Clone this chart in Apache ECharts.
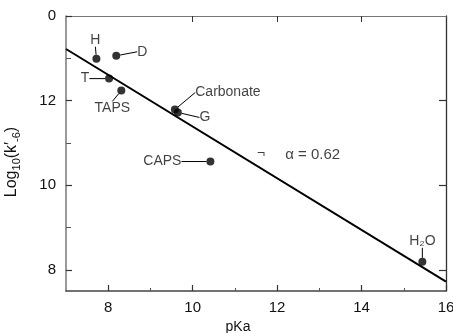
<!DOCTYPE html>
<html>
<head>
<meta charset="utf-8">
<script src="https://cdn.jsdelivr.net/npm/echarts@6/dist/echarts.min.js"></script>
<style>
  html, body { margin: 0; padding: 0; background: #fff; }
  #chart { width: 453px; height: 333px; }
</style>
</head>
<body>
<div id="chart"></div>
<script>
// Buffers: pKa against log10 of the rate constant
const bufferNames = ['H', 'D', 'T', 'TAPS', 'Carbonate', 'G', 'CAPS', 'H₂O'];
const pKaValues   = [7.72, 8.19, 8.02, 8.31, 9.58, 9.65, 10.42, 15.44];
const logKValues  = [12.99, 13.06, 12.52, 12.24, 11.79, 11.72, 10.56, 8.19];

// Fitted straight line (end points at the axis limits)
const fitX = [7, 16];
const fitY = [13.22, 7.72];

// Axis ticks and labels
const xMajorTicks = [8, 10, 12, 14, 16];
const xMinorTicks = [9, 11, 13, 15];
const yMajorTicks = [8, 10, 12, 14];
const yMinorTicks = [9, 11, 13];
const yTickText = { 8: '8', 10: '10', 12: '12', 14: '0' };

// Slope annotation
const slopeText = 'α = 0.62';
const slopeAt = [12.19, 10.71];
const markAt = [11.62, 10.73];

// Label offsets (px) from each point, so leader lines can be drawn
const labelShift = {
  'H': [-1, -19],
  'D': [26, -4],
  'T': [-24, 0],
  'TAPS': [-9, 18],
  'Carbonate': [53, -17],
  'G': [27, 5],
  'CAPS': [-48, 0],
  'H₂O': [0, -21]
};

const FONT = 'Liberation Sans';
const INK = '#111';

const points = bufferNames.map((n, i) => ({ name: n, value: [pKaValues[i], logKValues[i]] }));

const chart = echarts.init(document.getElementById('chart'), null, { renderer: 'canvas' });

const axisBase = {
  type: 'value',
  splitLine: { show: false },
  axisLine: { show: true, onZero: false, lineStyle: { color: '#444', width: 1.5 } }
};

chart.setOption({
  animation: false,
  backgroundColor: '#fff',
  grid: { left: 66, right: 7, top: 16, bottom: 42, containLabel: false, outerBoundsMode: 'none' },
  xAxis: [
    Object.assign({}, axisBase, {
      min: 7, max: 16, position: 'bottom',
      name: 'pKa', nameLocation: 'middle', nameGap: 27,
      nameTextStyle: { fontFamily: FONT, fontSize: 14, color: INK, padding: [0, 36, 0, 0] },
      axisTick: { show: true, inside: true, length: 6, customValues: xMajorTicks, lineStyle: { color: '#333', width: 1.2 } },
      axisLabel: { show: true, customValues: xMajorTicks, margin: 9, fontFamily: FONT, fontSize: 15, color: INK }
    }),
    Object.assign({}, axisBase, {
      min: 7, max: 16, position: 'bottom',
      axisLine: { show: false },
      axisTick: { show: true, inside: true, length: 3, customValues: xMinorTicks, lineStyle: { color: '#555', width: 1 } },
      axisLabel: { show: false }
    }),
    Object.assign({}, axisBase, {
      min: 7, max: 16, position: 'top',
      axisLine: { show: true, lineStyle: { color: '#777', width: 1 } },
      axisTick: { show: true, inside: true, length: 6, customValues: [10, 12, 14], lineStyle: { color: '#333', width: 1 } },
      axisLabel: { show: false }
    })
  ],
  yAxis: [
    Object.assign({}, axisBase, {
      min: 7.5, max: 14, position: 'left',
      name: '{b|Log}{s|10}{b|(k′}{s|-6}{b|)}', nameLocation: 'middle', nameGap: 44, nameRotate: 90,
      nameTextStyle: {
        fontFamily: FONT, fontSize: 16, color: INK, padding: [0, 0, 0, -17],
        rich: {
          b: { fontFamily: FONT, fontSize: 16, lineHeight: 20, color: INK },
          s: { fontFamily: FONT, fontSize: 11, lineHeight: 11, verticalAlign: 'bottom', color: INK }
        }
      },
      axisLine: { show: true, onZero: false, lineStyle: { color: '#777', width: 1.5 } },
      axisTick: { show: true, inside: true, length: 6, customValues: yMajorTicks, lineStyle: { color: '#333', width: 1.2 } },
      axisLabel: {
        show: true, customValues: yMajorTicks, margin: 10, fontFamily: FONT, fontSize: 15, color: INK,
        formatter: v => yTickText[v] !== undefined ? yTickText[v] : ''
      }
    }),
    Object.assign({}, axisBase, {
      min: 7.5, max: 14, position: 'left',
      axisLine: { show: false },
      axisTick: { show: true, inside: true, length: 5, customValues: yMinorTicks, lineStyle: { color: '#555', width: 1 } },
      axisLabel: { show: false }
    }),
    Object.assign({}, axisBase, {
      min: 7.5, max: 14, position: 'right',
      axisLine: { show: true, onZero: false, lineStyle: { color: '#333', width: 1.3 } },
      axisTick: { show: true, inside: true, length: 7, customValues: [8, 10, 12], lineStyle: { color: '#333', width: 1.2 } },
      axisLabel: { show: false }
    })
  ],
  series: [
    {
      type: 'line',
      data: fitX.map((x, i) => [x, fitY[i]]),
      symbol: 'none',
      lineStyle: { color: '#000', width: 2 },
      z: 2
    },
    {
      type: 'scatter',
      data: points,
      symbol: 'circle',
      symbolSize: 8,
      itemStyle: { color: '#000' },
      label: {
        show: true, position: 'inside', formatter: p => p.name,
        fontFamily: FONT, fontSize: 14, color: INK
      },
      labelLayout: p => {
        const s = labelShift[bufferNames[p.dataIndex]];
        return { dx: s[0], dy: s[1] };
      },
      labelLine: { show: true, length2: 0, lineStyle: { color: '#000', width: 1 } },
      z: 3
    },
    {
      type: 'scatter',
      data: [{ name: slopeText, value: slopeAt }],
      symbolSize: 0,
      label: {
        show: true, position: 'right', distance: 0, formatter: p => p.name,
        fontFamily: FONT, fontSize: 15, color: INK
      },
      z: 3
    },
    {
      type: 'scatter',
      data: [{ name: '¬', value: markAt }],
      symbolSize: 0,
      label: {
        show: true, position: 'inside', formatter: p => p.name,
        fontFamily: FONT, fontSize: 14, color: INK
      },
      z: 3
    }
  ]
});
</script>
</body>
</html>
